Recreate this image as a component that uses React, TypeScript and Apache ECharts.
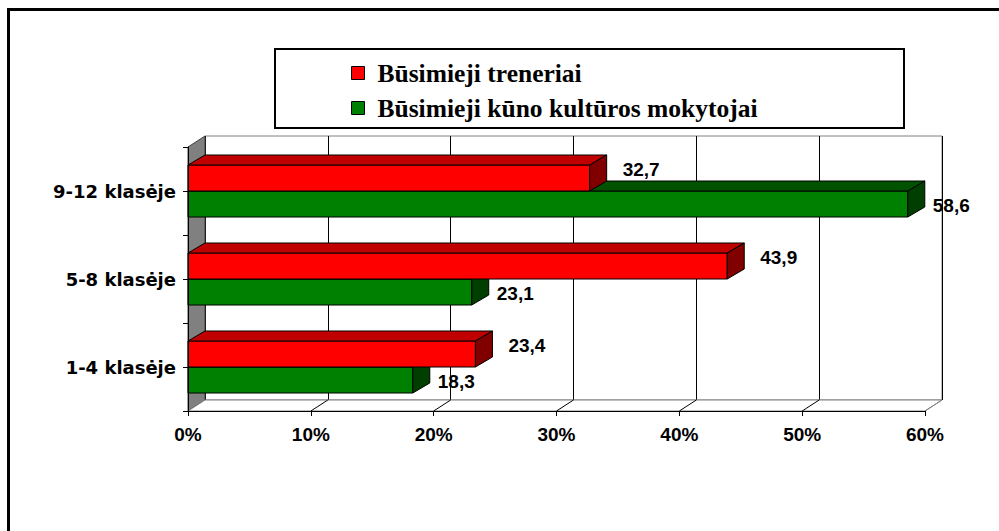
import React, { useEffect, useRef } from 'react';
import * as echarts from 'echarts';

const categories = ['1-4 klasėje', '5-8 klasėje', '9-12 klasėje'];
const seriesNames = ['Būsimieji treneriai', 'Būsimieji kūno kultūros mokytojai'];
const trenerValues = [23.4, 43.9, 32.7];
const mokytojaiValues = [18.3, 23.1, 58.6];
const xTicks = [0, 10, 20, 30, 40, 50, 60];

// layout (front plane and 3D depth)
const FL = 188, FT = 147, FW = 737, FH = 264;
const DX = 17, DY = -11;
const BAR_DX = 17, BAR_DY = -10;
const BAR_H = 26;
const FONT = '"Liberation Sans", Arial, sans-serif';

function fmt(v: number) {
  return v.toFixed(1).replace('.', ',');
}

function barRender(upper: boolean, front: string, top: string, side: string) {
  return (params: any, api: any) => {
    const v = api.value(0);
    const ci = api.value(1);
    const s = api.coord([0, ci]);
    const e = api.coord([v, ci]);
    const c = e[1];
    const y0 = upper ? c - BAR_H : c;
    const y1 = y0 + BAR_H;
    const x0 = s[0];
    const x1 = e[0];
    const lx = x1 + BAR_DX + (upper ? 16 : 8);
    const ly = upper ? c - 22 : c + 14;
    return {
      type: 'group',
      children: [
        {
          type: 'rect',
          shape: { x: x0, y: y0, width: x1 - x0, height: BAR_H },
          style: { fill: front, stroke: '#000', lineWidth: 1 },
        },
        {
          type: 'polygon',
          shape: { points: [[x0, y0], [x0 + BAR_DX, y0 + BAR_DY], [x1 + BAR_DX, y0 + BAR_DY], [x1, y0]] },
          style: { fill: top, stroke: '#000', lineWidth: 1 },
        },
        {
          type: 'polygon',
          shape: { points: [[x1, y0], [x1 + BAR_DX, y0 + BAR_DY], [x1 + BAR_DX, y1 + BAR_DY], [x1, y1]] },
          style: { fill: side, stroke: '#000', lineWidth: 1 },
        },
        {
          type: 'text',
          x: lx,
          y: ly,
          style: {
            text: fmt(v),
            fill: '#000',
            font: 'bold 19px ' + FONT,
            align: 'left',
            verticalAlign: 'middle',
            textAlign: 'left',
            textVerticalAlign: 'middle',
          },
        },
      ],
    };
  };
}

function floorRender(params: any, api: any) {
  const v = api.value(0);
  const p = api.coord([v, 0]);
  const bottom = params.coordSys.y + params.coordSys.height;
  const last = v === xTicks[xTicks.length - 1];
  return {
    type: 'line',
    shape: { x1: p[0], y1: bottom, x2: p[0] + DX, y2: bottom + DY },
    style: { stroke: last ? '#808080' : '#000', lineWidth: 1 },
  };
}

export default function App() {
  const ref = useRef<HTMLDivElement>(null);
  useEffect(() => {
    if (!ref.current) return;
    const chart = echarts.init(ref.current, null, { renderer: 'svg' });
    const option: any = {
      animation: false,
      backgroundColor: '#fff',
      grid: [
        { left: FL, top: FT, width: FW, height: FH, show: false },
        {
          left: FL + DX, top: FT + DY, width: FW, height: FH, show: true,
          backgroundColor: '#fff', borderColor: '#808080', borderWidth: 1, z: 0,
        },
      ],
      xAxis: [
        {
          gridIndex: 0, type: 'value', min: 0, max: 60, interval: 10, z: 5,
          axisLine: { show: true, lineStyle: { color: '#000', width: 1 } },
          axisTick: { show: true, length: 5, lineStyle: { color: '#000' } },
          splitLine: { show: false },
          axisLabel: {
            formatter: '{value}%', margin: 14, color: '#000',
            fontFamily: FONT, fontWeight: 'bold', fontSize: 19,
          },
        },
        {
          gridIndex: 1, type: 'value', min: 0, max: 60, interval: 10,
          axisLine: { show: false }, axisTick: { show: false }, axisLabel: { show: false },
          splitLine: { show: true, lineStyle: { color: '#000', width: 1 } },
        },
      ],
      yAxis: [
        {
          gridIndex: 0, type: 'category', data: categories, z: 5,
          axisLine: { show: false }, axisTick: { show: false },
          axisLabel: {
            margin: 12, color: '#000', fontFamily: '"DejaVu Sans", sans-serif', fontWeight: 'bold', fontSize: 18,
          },
        },
        {
          gridIndex: 0, type: 'value', min: 0, max: 3, interval: 0.5, position: 'left', offset: 0, z: 5,
          axisLine: { show: true, lineStyle: { color: '#000', width: 1 } },
          axisTick: { show: true, length: 5, lineStyle: { color: '#000' } },
          axisLabel: { show: false }, splitLine: { show: false },
        },
        {
          gridIndex: 1, type: 'category', data: categories, show: false,
        },
      ],
      legend: {
        orient: 'vertical', left: 351, top: 60, padding: 0, itemWidth: 13, itemHeight: 13, itemGap: 9,
        icon: 'rect', z: 10,
        textStyle: {
          fontFamily: '"Liberation Serif", "Times New Roman", serif', fontWeight: 'bold', fontSize: 25.5,
          color: '#000', padding: [0, 0, 0, 8],
        },
        data: [
          { name: seriesNames[0], itemStyle: { color: '#FF0000', borderColor: '#000', borderWidth: 1 } },
          { name: seriesNames[1], itemStyle: { color: '#008000', borderColor: '#000', borderWidth: 1 } },
        ],
      },
      graphic: [
        // outer frame
        { type: 'line', z: 20, shape: { x1: 7, y1: 9.5, x2: 999, y2: 9.5 }, style: { stroke: '#000', lineWidth: 3 } },
        { type: 'line', z: 20, shape: { x1: 8.5, y1: 8, x2: 8.5, y2: 531 }, style: { stroke: '#000', lineWidth: 3 } },
        // legend box
        { type: 'rect', z: 1, shape: { x: 275, y: 49, width: 629, height: 79 }, style: { fill: '#fff', stroke: '#000', lineWidth: 2 } },
        // left side wall
        {
          type: 'polygon', z: 1,
          shape: { points: [[FL, FT], [FL + DX, FT + DY], [FL + DX, FT + FH + DY], [FL, FT + FH]] },
          style: { fill: '#808080', stroke: '#404040', lineWidth: 1 },
        },
        // floor
        {
          type: 'polygon', z: 1,
          shape: { points: [[FL, FT + FH], [FL + DX, FT + FH + DY], [FL + FW + DX, FT + FH + DY], [FL + FW, FT + FH]] },
          style: { fill: '#fff', stroke: '#808080', lineWidth: 1 },
        },
      ],
      series: [
        {
          type: 'custom', name: 'floor', xAxisIndex: 0, yAxisIndex: 0, z: 3, silent: true,
          data: xTicks.slice(1).map((t) => [t, 0]),
          encode: { x: 0, y: 1 },
          renderItem: floorRender,
        },
        {
          type: 'custom', name: seriesNames[1], xAxisIndex: 0, yAxisIndex: 0, z: 4,
          itemStyle: { color: '#008000' },
          data: mokytojaiValues.map((v, i) => [v, i]),
          encode: { x: 0, y: 1 },
          renderItem: barRender(false, '#008000', '#005200', '#003F00'),
        },
        {
          type: 'custom', name: seriesNames[0], xAxisIndex: 0, yAxisIndex: 0, z: 5,
          itemStyle: { color: '#FF0000' },
          data: trenerValues.map((v, i) => [v, i]),
          encode: { x: 0, y: 1 },
          renderItem: barRender(true, '#FF0000', '#C00000', '#800000'),
        },
      ],
    };
    chart.setOption(option);
    return () => chart.dispose();
  }, []);
  return (
    <div
      ref={ref}
      style={{ position: 'fixed', left: 0, top: 0, width: 999, height: 531 }}
    />
  );
}
